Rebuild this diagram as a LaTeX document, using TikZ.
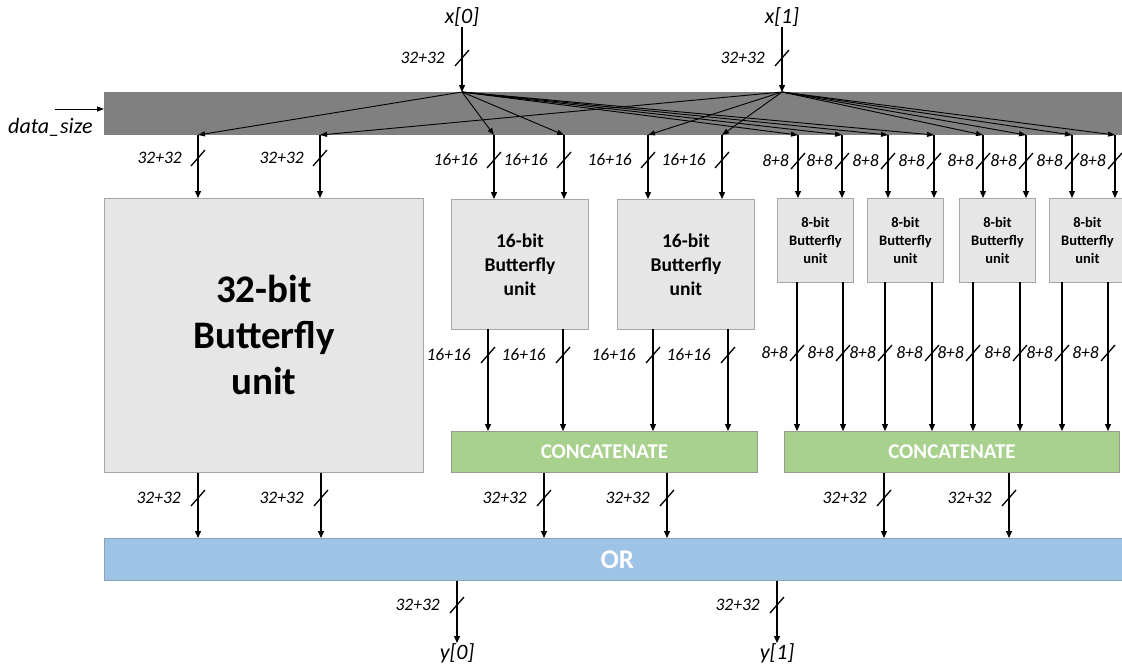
\documentclass[tikz,border=0pt]{standalone}
\usepackage{fontspec}
\setmainfont{Carlito}
\usetikzlibrary{arrows.meta}
\definecolor{barcol}{HTML}{808080}
\definecolor{unitfill}{HTML}{E7E6E6}
\definecolor{unitdraw}{HTML}{A6A6A6}
\definecolor{catfill}{HTML}{A9D18E}
\definecolor{catdraw}{HTML}{949E8E}
\definecolor{orfill}{HTML}{9DC3E6}
\definecolor{ordraw}{HTML}{8EA2B5}
\begin{document}
\begin{tikzpicture}[x=1pt,y=-1pt,
  wire/.style={line width=1.3pt,-{Triangle[length=7pt,width=6pt]}},
  fanline/.style={line width=0.9pt,-{Triangle[length=7pt,width=5pt]}},
  tick/.style={line width=1.3pt},
  lbl/.style={font=\fontsize{17.5}{20}\selectfont\itshape,anchor=east,inner sep=0pt},
  io/.style={font=\fontsize{22}{26}\selectfont\itshape,inner sep=0pt},
  unit/.style={draw=unitdraw,fill=unitfill,line width=0.9pt,anchor=north west,inner sep=0pt,align=center},
  cat/.style={draw=catdraw,fill=catfill,line width=0.9pt,anchor=north west,inner sep=0pt,text=white,font=\fontsize{21}{25}\selectfont\bfseries},
]
\useasboundingbox (0,0) rectangle (1122,670);

% distribution bar
\node[fill=barcol,anchor=north west,inner sep=0pt,minimum width=1030pt,minimum height=43pt] (bar) at (104,92) {};

% units
\node[unit,minimum width=319pt,minimum height=274pt,font=\fontsize{39}{46}\selectfont\bfseries] (u32) at (104,198) {32-bit\\Butterfly\\unit};
\node[unit,minimum width=137pt,minimum height=130pt,font=\fontsize{19.5}{24}\selectfont\bfseries] (u16a) at (451,199) {16-bit\\Butterfly\\unit};
\node[unit,minimum width=137pt,minimum height=130pt,font=\fontsize{19.5}{24}\selectfont\bfseries] (u16b) at (617,199) {16-bit\\Butterfly\\unit};
\foreach \x/\n in {777/a,867/b,959/c,1049/d}
  \node[unit,minimum width=76pt,minimum height=84pt,font=\fontsize{14.5}{18}\selectfont\bfseries] (u8\n) at (\x,198) {8-bit\\Butterfly\\unit};

% concatenate and OR
\node[cat,minimum width=306pt,minimum height=41pt] (cat1) at (451,431) {CONCATENATE};
\node[cat,minimum width=335pt,minimum height=41pt] (cat2) at (784,431) {CONCATENATE};
\node[draw=ordraw,fill=orfill,line width=0.9pt,anchor=north west,inner sep=0pt,minimum width=1026pt,minimum height=42pt,text=white,font=\fontsize{27}{32}\selectfont\bfseries] (or) at (104,538) {OR};

% inputs x[0], x[1]
\node[io] (x0) at (462,17) {x[0]};
\node[io] (x1) at (782,17) {x[1]};
\coordinate (x0p) at (462,92);
\coordinate (x1p) at (782,92);
\draw[wire] (x0) -- (x0p);
\draw[wire] (x1) -- (x1p);
\foreach \x/\n in {462/a,782/b}{
  \draw[tick] (\x-7,66) -- (\x+7,50);
  \node[lbl] (lx\n) at (\x-17,58) {32+32};
}

% data_size
\node[io,anchor=base west] (ds) at (8,133) {data\_size};
\coordinate (dsp) at (55,109);
\draw[line width=0.9pt,-{Triangle[length=7pt,width=5pt]}] (dsp) -- (dsp -| bar.west);

% inputs of the units (from bar bottom)
\foreach \x/\n/\s/\t/\tgt/\y/\g in {
  198/a/x0p/32+32/u32/158/16, 320/b/x1p/32+32/u32/158/16,
  494/c/x0p/16+16/u16a/160/16, 564/d/x0p/16+16/u16a/160/16,
  648/e/x1p/16+16/u16b/160/16, 722/f/x1p/16+16/u16b/160/16,
  798/g/x0p/8+8/u8a/161/9, 842/h/x0p/8+8/u8a/161/9,
  888/i/x0p/8+8/u8b/161/9, 934/j/x0p/8+8/u8b/161/9,
  983/k/x1p/8+8/u8c/161/9, 1026/l/x1p/8+8/u8c/161/9,
  1072/m/x1p/8+8/u8d/161/9, 1115/n/x1p/8+8/u8d/161/9}{
  \coordinate (in\n) at (\x,135);
  \draw[fanline] (\s) -- (in\n);
  \draw[wire] (in\n) -- (in\n |- \tgt.north);
  \draw[tick] (\x-7,\y+8) -- (\x+7,\y-8);
  \node[lbl] (li\n) at (\x-\g,\y) {\t};
}

% outputs of 16-bit units to concatenate 1
\foreach \x/\n/\src in {488/a/u16a,563/b/u16a,653/c/u16b,728/d/u16b}{
  \coordinate (o16\n) at (\x,329);
  \draw[wire] (o16\n) -- (o16\n |- cat1.north);
  \draw[tick] (\x-7,363) -- (\x+7,347);
  \node[lbl] (lo16\n) at (\x-17,355) {16+16};
}

% outputs of 8-bit units to concatenate 2
\foreach \x/\n in {797/a,843/b,885/c,932/d,973/e,1020/f,1062/g,1108/h}{
  \coordinate (o8\n) at (\x,282);
  \draw[wire] (o8\n) -- (o8\n |- cat2.north);
  \draw[tick] (\x-7,361) -- (\x+7,345);
  \node[lbl] (lo8\n) at (\x-9,353) {8+8};
}

% into OR
\foreach \x/\n/\src in {198/a/u32,321/b/u32,544/c/cat1,667/d/cat1,884/e/cat2,1009/f/cat2}{
  \coordinate (oo\n) at (\x,0);
  \draw[wire] (oo\n |- \src.south) -- (oo\n |- or.north);
  \draw[tick] (\x-7,506) -- (\x+7,490);
  \node[lbl] (loo\n) at (\x-17,498) {32+32};
}

% outputs y[0], y[1]
\node[io,anchor=north] (y0) at (457,643) {y[0]};
\node[io,anchor=north] (y1) at (777,643) {y[1]};
\draw[wire] (y0 |- or.south) -- (y0.north);
\draw[wire] (y1 |- or.south) -- (y1.north);
\foreach \x/\n in {457/a,777/b}{
  \draw[tick] (\x-7,613) -- (\x+7,597);
  \node[lbl] (ly\n) at (\x-17,605) {32+32};
}
\end{tikzpicture}
\end{document}
